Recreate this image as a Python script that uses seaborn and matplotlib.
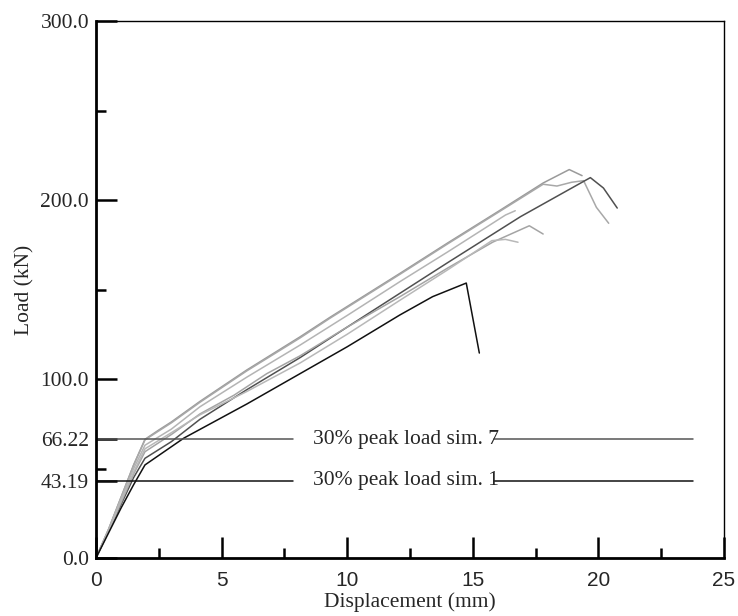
import matplotlib
matplotlib.use("Agg")
import matplotlib.pyplot as plt
from matplotlib.ticker import MultipleLocator, FixedLocator
import seaborn as sns
import pandas as pd

# ---- data ----
sim_a_x = [0, 0.5, 1.0, 1.5, 1.95, 2.5, 3.0, 4.14, 6.0, 8.13, 9.32, 12.1, 14.0, 16.0, 17.8, 18.84, 19.35]
sim_a_y = [0, 16, 34, 52, 66.3, 71.5, 76, 87.5, 105, 123.6, 134.5, 159, 176, 193.5, 209.5, 217, 213.6]

sim_b_x = [0, 0.5, 1.0, 1.5, 1.95, 2.5, 3.0, 4.14, 6.0, 8.13, 9.32, 12.1, 14.0, 16.0, 17.8, 18.35, 18.93, 19.41, 19.92, 20.41]
sim_b_y = [0, 16, 34, 52, 66.0, 71, 75.5, 87, 104.5, 123, 134, 158.5, 175.5, 193, 208.8, 207.8, 209.9, 210.8, 195.9, 187]

sim_c_x = [0, 0.5, 1.0, 1.5, 1.95, 3.0, 4.14, 6.0, 8.13, 10.0, 12.1, 14.0, 16.9, 19.68, 20.2, 20.75]
sim_c_y = [0, 15, 30, 45, 55.7, 65, 77.5, 94, 112, 129, 147.9, 165, 190.7, 212.5, 206.7, 195.5]

sim_d_x = [0, 0.5, 1.0, 1.5, 1.95, 3.0, 4.14, 6.0, 8.13, 10.0, 12.1, 14.0, 16.3, 16.69]
sim_d_y = [0, 16, 33, 50, 63, 72, 84.5, 101, 119, 135.5, 154.4, 171, 191.6, 194]

sim_e_x = [0, 0.5, 1.0, 1.5, 1.95, 3.0, 4.14, 5.5, 6.8, 8.13, 10.0, 12.1, 14.0, 15.8, 17.25, 17.8]
sim_e_y = [0, 15, 31, 47, 59.4, 69, 80.5, 91, 103, 113, 129, 146, 162, 176.5, 185.6, 181]

sim_f_x = [0, 0.5, 1.0, 1.5, 1.95, 3.0, 4.14, 6.0, 8.13, 10.0, 12.1, 14.0, 15.76, 16.3, 16.8]
sim_f_y = [0, 15, 32, 48, 61, 70, 80, 93, 109, 125, 144, 161, 177.3, 178, 176.4]

sim_1_x = [0, 0.5, 1.0, 1.5, 1.95, 3.5, 6.0, 8.0, 10.0, 12.1, 13.4, 14.74, 15.26]
sim_1_y = [0, 14, 28, 41, 52, 67, 86, 102, 118, 135.8, 146, 153.6, 114.5]

curve_names = ["sim_a", "sim_b", "sim_c", "sim_d", "sim_e", "sim_f", "sim_1"]
curve_colors = ["#9a9a9a", "#a8a8a8", "#505050", "#b4b4b4", "#a4a4a4", "#b8b8b8", "#111111"]

ref_values = [66.22, 43.19]
ref_labels = ["30% peak load sim. 7", "30% peak load sim. 1"]
ref_colors = ["#555555", "#111111"]
ref_left_x = [0, 7.85]
ref_right_x = [15.85, 23.75]
ref_text_x = 8.65

y_major = [0, 100, 200, 300]
y_major_labels = ["0.0", "100.0", "200.0", "300.0"]

# ---- build long table ----
xs = [sim_a_x, sim_b_x, sim_c_x, sim_d_x, sim_e_x, sim_f_x, sim_1_x]
ys = [sim_a_y, sim_b_y, sim_c_y, sim_d_y, sim_e_y, sim_f_y, sim_1_y]
rows = []
for name, xv, yv in zip(curve_names, xs, ys):
    for i, (a, b) in enumerate(zip(xv, yv)):
        rows.append({"sim": name, "order": i, "disp": a, "load": b})
df = pd.DataFrame(rows)

sns.set_theme(style="white")
plt.rcParams["font.family"] = ["Liberation Serif", "DejaVu Serif"]

fig = plt.figure(figsize=(7.38, 6.16), dpi=100)
ax = fig.add_axes([96 / 738, 1 - 558 / 616, (724 - 96) / 738, (558 - 21) / 616])

sns.lineplot(data=df, x="disp", y="load", hue="sim", hue_order=curve_names,
             palette=dict(zip(curve_names, curve_colors)), sort=False,
             estimator=None, units="sim", linewidth=1.1, legend=False, ax=ax)

# reference lines with gap for labels
for val, lab, col in zip(ref_values, ref_labels, ref_colors):
    ax.plot([ref_left_x[0], ref_left_x[1]], [val, val], color=col, lw=1.1)
    ax.plot([ref_right_x[0], ref_right_x[1]], [val, val], color=col, lw=1.1)
    ax.text(ref_text_x, val, lab, fontsize=15.5, va="center", ha="left",
            family=["Liberation Serif"])

ax.set_xlim(0, 25)
ax.set_ylim(0, 300)

ax.xaxis.set_major_locator(MultipleLocator(5))
ax.xaxis.set_minor_locator(MultipleLocator(2.5))
ticks_y = y_major + ref_values
labels_y = y_major_labels + ["66.22", "43.19"]
ax.set_yticks(ticks_y)
ax.set_yticklabels(labels_y)
ax.yaxis.set_minor_locator(FixedLocator([50, 150, 250]))

for t, v in zip(ax.yaxis.get_major_ticks(), ticks_y):
    if v in ref_values:
        t.tick1line.set_visible(False)
        t.tick2line.set_visible(False)

ax.tick_params(axis="both", which="major", direction="in", length=15, width=1.8,
               color="black", top=False, right=False)
ax.tick_params(axis="both", which="minor", direction="in", length=7.5, width=1.8,
               color="black", top=False, right=False)
ax.tick_params(axis="y", which="both", left=True)
ax.tick_params(axis="x", which="both", bottom=True)
ax.tick_params(axis="y", labelsize=15.5, pad=5)
ax.tick_params(axis="x", labelsize=15, pad=9)
for lbl in ax.get_xticklabels():
    lbl.set_family(["Liberation Sans"])

for side in ["left", "bottom"]:
    ax.spines[side].set_linewidth(2.0)
    ax.spines[side].set_color("black")
for side in ["top", "right"]:
    ax.spines[side].set_linewidth(1.0)
    ax.spines[side].set_color("black")
    ax.spines[side].set_visible(True)

ax.set_xlabel("Displacement (mm)", fontsize=15.5, labelpad=2)
ax.set_ylabel("Load (kN)", fontsize=15.5, labelpad=4)
ax.grid(False)

fig.savefig("out.png", dpi=100, facecolor="white")
